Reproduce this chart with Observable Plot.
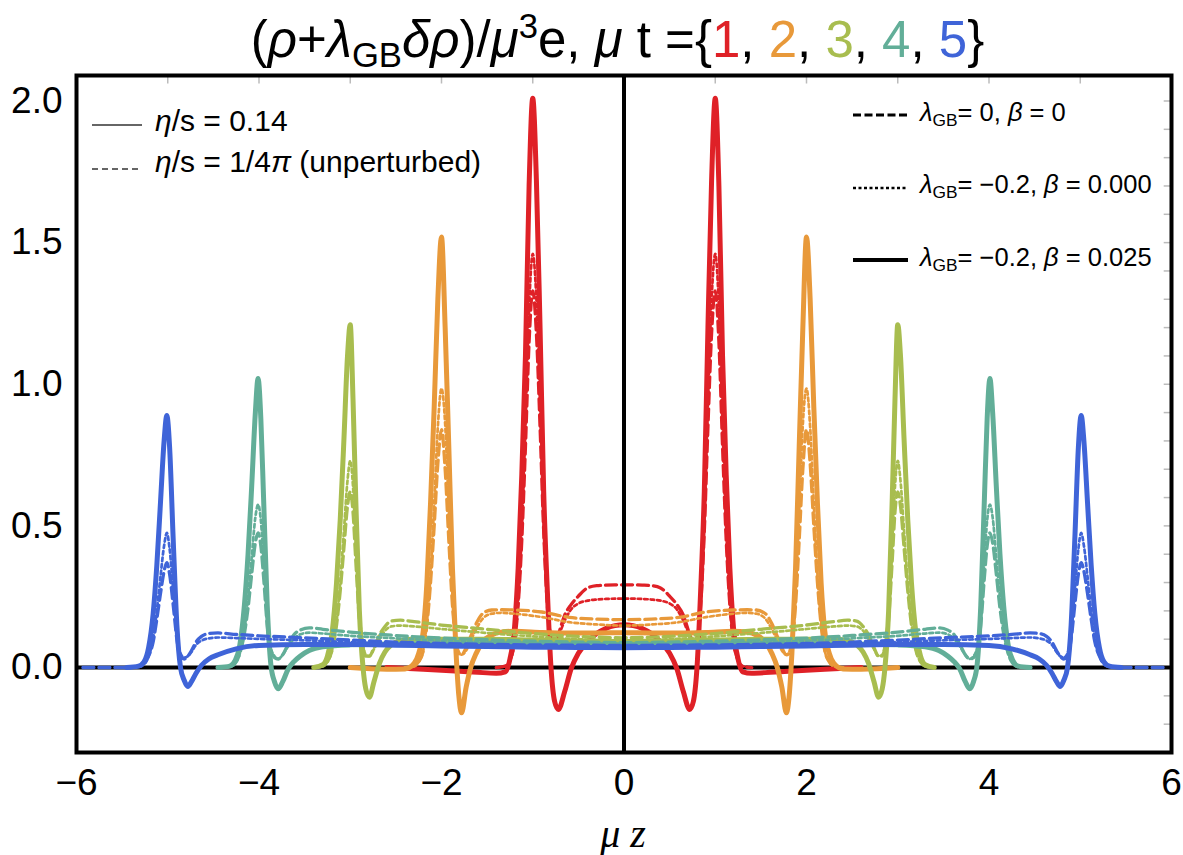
<!DOCTYPE html>
<html>
<head>
<meta charset="utf-8">
<script src="https://cdn.jsdelivr.net/npm/d3@7"></script>
<script src="https://cdn.jsdelivr.net/npm/@observablehq/plot@0.6"></script>
<style>
  html, body { margin: 0; padding: 0; background: #fff; }
  #wrap { position: relative; width: 1183px; height: 855px; font-family: "Liberation Sans", Arial, sans-serif; color: #000; }
  #title { position: absolute; left: 70px; width: 1095px; top: 14px; text-align: center; font-size: 51px; line-height: 1; white-space: nowrap; }
  .ov { position: absolute; line-height: 1; white-space: nowrap; }
  sub { font-size: 0.68em; vertical-align: -0.28em; line-height: 0; }
  sup { font-size: 0.68em; vertical-align: 0.55em; line-height: 0; }
  #chart { position: absolute; left: 0; top: 70px; }
  #legsvg { position: absolute; left: 0; top: 0; pointer-events: none; }
</style>
</head>
<body>
<div id="wrap">
  <div id="title">(<i>ρ</i>+<i>λ</i><sub>GB</sub><i>δρ</i>)/<i>μ</i><sup>3</sup>e, <i>μ</i> t ={<span id="tnums"></span>}</div>
  <div id="chart"></div>
  <svg id="legsvg" width="1183" height="855"></svg>
  <div class="ov" style="left:155px;top:106px;font-size:30px"><i>η</i>/s = 0.14</div>
  <div class="ov" style="left:155px;top:147px;font-size:30px"><i>η</i>/s = 1/4<i>π</i> (unperturbed)</div>
  <div class="ov" style="left:920px;top:100px;font-size:25.5px"><i>λ</i><sub>GB</sub>= 0, <i>β</i> = 0</div>
  <div class="ov" style="left:920px;top:172px;font-size:25.5px"><i>λ</i><sub>GB</sub>= −0.2, <i>β</i> = 0.000</div>
  <div class="ov" style="left:920px;top:245px;font-size:25.5px"><i>λ</i><sub>GB</sub>= −0.2, <i>β</i> = 0.025</div>
  <div class="ov" style="left:523px;width:200px;text-align:center;top:814px;font-size:40px;font-family:'Liberation Serif','Times New Roman',serif;font-style:italic">μ z</div>
</div>
<script>
// ---- data (right half z >= 0; the chart is mirror-symmetric in z) ----
const times = [1, 2, 3, 4, 5];
const colors = ["#df2127", "#e8993a", "#a8bd4f", "#62ae98", "#3f64d8"];
const xTicks = [-6, -4, -2, 0, 2, 4, 6];
const yTicks = [0, 0.5, 1, 1.5, 2];
const topTicks = [-5, -4, -3, -2, -1, 1, 2, 3, 4, 5];
const rightTicks = [-0.2, -0.1, 0.1, 0.2, 0.3, 0.4, 0.5, 0.6, 0.7, 0.8, 0.9, 1.0, 1.1, 1.2, 1.3, 1.4, 1.5, 1.6, 1.7, 1.8, 1.9, 2.0];

// t = 1
const z1 = [0, 0.1, 0.2, 0.3, 0.4, 0.5, 0.58, 0.65, 0.72, 0.76, 0.8, 0.84, 0.88, 0.92, 0.96, 1.0, 1.04, 1.08, 1.12, 1.16, 1.2, 1.25, 1.3, 1.4, 1.6, 1.8, 2.2, 2.6];
const solid1  = [0.151, 0.148, 0.138, 0.12, 0.09, 0.05, -0.005, -0.085, -0.148, -0.12, 0.0, 0.27, 0.62, 1.2, 1.72, 2.01, 1.7, 1.1, 0.68, 0.35, 0.14, 0.03, -0.015, -0.02, -0.017, -0.013, -0.006, 0.0];
const dashed1 = [0.292, 0.292, 0.291, 0.289, 0.281, 0.252, 0.222, 0.185, 0.115, 0.075, 0.1, 0.22, 0.48, 0.85, 1.18, 1.33, 1.15, 0.78, 0.45, 0.22, 0.09, 0.025, 0.005, 0.0, null, null, null, null];
const dotted1 = [0.243, 0.243, 0.242, 0.24, 0.236, 0.226, 0.205, 0.165, 0.11, 0.085, 0.11, 0.24, 0.52, 0.93, 1.3, 1.46, 1.27, 0.85, 0.48, 0.23, 0.09, 0.025, 0.005, 0.0, null, null, null, null];

// t = 2
const z2 = [0, 0.3, 0.6, 0.9, 1.2, 1.35, 1.45, 1.55, 1.62, 1.68, 1.73, 1.78, 1.81, 1.84, 1.88, 1.92, 1.96, 2.0, 2.04, 2.08, 2.12, 2.16, 2.2, 2.25, 2.3, 2.4, 2.6, 3.0];
const solid2  = [0.123, 0.122, 0.122, 0.124, 0.128, 0.125, 0.115, 0.09, 0.05, 0.0, -0.07, -0.16, -0.1, 0.05, 0.35, 0.78, 1.2, 1.52, 1.3, 0.92, 0.58, 0.3, 0.13, 0.05, 0.015, -0.005, -0.006, 0.0];
const dashed2 = [0.169, 0.171, 0.177, 0.196, 0.203, 0.204, 0.203, 0.19, 0.155, 0.11, 0.07, 0.045, 0.05, 0.09, 0.22, 0.45, 0.7, 0.84, 0.72, 0.5, 0.3, 0.15, 0.06, 0.02, 0.005, 0.0, null, null];
const dotted2 = [0.148, 0.152, 0.16, 0.178, 0.19, 0.193, 0.19, 0.172, 0.135, 0.095, 0.06, 0.045, 0.055, 0.1, 0.26, 0.55, 0.86, 0.985, 0.85, 0.58, 0.33, 0.16, 0.06, 0.02, 0.005, 0.0, null, null];

// t = 3
const z3 = [0, 0.5, 1.0, 1.5, 2.0, 2.3, 2.45, 2.55, 2.62, 2.68, 2.74, 2.79, 2.83, 2.86, 2.9, 2.94, 2.97, 3.0, 3.03, 3.07, 3.11, 3.15, 3.2, 3.25, 3.3, 3.4];
const solid3  = [0.092, 0.094, 0.097, 0.1, 0.1, 0.1, 0.095, 0.08, 0.055, 0.015, -0.05, -0.105, -0.075, 0.0, 0.2, 0.6, 0.95, 1.21, 1.1, 0.8, 0.52, 0.3, 0.12, 0.04, 0.01, 0.0];
const dashed3 = [0.105, 0.11, 0.12, 0.135, 0.15, 0.162, 0.167, 0.164, 0.145, 0.115, 0.07, 0.04, 0.04, 0.07, 0.17, 0.38, 0.55, 0.62, 0.57, 0.42, 0.27, 0.15, 0.06, 0.02, 0.005, 0.0];
const dotted3 = [0.095, 0.1, 0.11, 0.122, 0.136, 0.145, 0.148, 0.145, 0.13, 0.1, 0.065, 0.04, 0.045, 0.08, 0.2, 0.44, 0.64, 0.73, 0.66, 0.48, 0.3, 0.16, 0.06, 0.02, 0.005, 0.0];

// t = 4
const z4 = [0, 0.5, 1.0, 1.5, 2.0, 2.5, 3.0, 3.3, 3.45, 3.55, 3.62, 3.68, 3.74, 3.79, 3.83, 3.87, 3.91, 3.95, 3.98, 4.01, 4.04, 4.08, 4.12, 4.16, 4.21, 4.26, 4.32, 4.45];
const solid4  = [0.08, 0.08, 0.082, 0.083, 0.083, 0.083, 0.08, 0.073, 0.06, 0.04, 0.02, -0.005, -0.05, -0.075, -0.05, 0.01, 0.22, 0.6, 0.88, 1.02, 0.9, 0.64, 0.4, 0.22, 0.08, 0.025, 0.005, 0.0];
const dashed4 = [0.088, 0.09, 0.093, 0.098, 0.104, 0.113, 0.125, 0.135, 0.14, 0.132, 0.115, 0.082, 0.045, 0.03, 0.035, 0.06, 0.15, 0.32, 0.43, 0.475, 0.44, 0.33, 0.21, 0.12, 0.05, 0.015, 0.003, 0.0];
const dotted4 = [0.083, 0.085, 0.087, 0.09, 0.095, 0.103, 0.112, 0.12, 0.123, 0.117, 0.1, 0.075, 0.045, 0.03, 0.04, 0.07, 0.18, 0.38, 0.52, 0.575, 0.53, 0.39, 0.25, 0.13, 0.05, 0.015, 0.003, 0.0];

// t = 5
const z5 = [0, 0.5, 1.0, 1.5, 2.0, 2.5, 3.0, 3.5, 4.0, 4.25, 4.45, 4.55, 4.63, 4.69, 4.74, 4.78, 4.82, 4.86, 4.9, 4.94, 4.98, 5.01, 5.04, 5.08, 5.12, 5.16, 5.21, 5.26, 5.32, 5.45, 5.93];
const solid5  = [0.07, 0.071, 0.072, 0.074, 0.076, 0.079, 0.081, 0.081, 0.078, 0.066, 0.045, 0.03, 0.008, -0.02, -0.05, -0.067, -0.045, 0.0, 0.15, 0.45, 0.78, 0.89, 0.8, 0.58, 0.36, 0.19, 0.07, 0.02, 0.005, 0.0, null];
const dashed5 = [0.078, 0.079, 0.08, 0.082, 0.085, 0.09, 0.097, 0.105, 0.112, 0.117, 0.122, 0.12, 0.11, 0.09, 0.06, 0.04, 0.03, 0.04, 0.1, 0.22, 0.33, 0.37, 0.34, 0.26, 0.17, 0.09, 0.04, 0.012, 0.003, 0.0, 0.0];
const dotted5 = [0.074, 0.075, 0.076, 0.078, 0.08, 0.084, 0.09, 0.096, 0.101, 0.104, 0.106, 0.103, 0.095, 0.08, 0.055, 0.04, 0.035, 0.05, 0.12, 0.27, 0.42, 0.475, 0.43, 0.32, 0.2, 0.1, 0.04, 0.012, 0.003, 0.0, null];

const grids = [z1, z2, z3, z4, z5];
const solids = [solid1, solid2, solid3, solid4, solid5];
const dasheds = [dashed1, dashed2, dashed3, dashed4, dashed5];
const dotteds = [dotted1, dotted2, dotted3, dotted4, dotted5];

const styles = {
  dashed: {w: 3.3, dash: "11,5"},
  dotted: {w: 2.7, dash: "3.5,3"},
  solid: {w: 5, dash: null}
};

function rowsFor(zs, vs) {
  const rows = [];
  for (let i = zs.length - 1; i > 0; i--) rows.push({z: -zs[i], v: vs[i]});
  for (let i = 0; i < zs.length; i++) rows.push({z: zs[i], v: vs[i]});
  return rows;
}

document.getElementById("tnums").innerHTML = times
  .map((t, i) => `<span style="color:${colors[i]}">${t}</span>`).join(", ");

const curveMarks = [];
times.forEach((t, i) => {
  [["dashed", dasheds[i]], ["dotted", dotteds[i]], ["solid", solids[i]]].forEach(([s, vals]) => {
    const st = styles[s];
    curveMarks.push(Plot.line(rowsFor(grids[i], vals), {
      x: "z", y: "v", stroke: colors[i], strokeWidth: st.w,
      strokeDasharray: st.dash ?? undefined, curve: "monotone-x"
    }));
  });
});

const Y0 = -0.3, Y1 = 2.09;
const chart = Plot.plot({
  width: 1183, height: 785,
  marginTop: 5, marginLeft: 76, marginRight: 12, marginBottom: 103,
  x: {domain: [-6, 6], ticks: xTicks, tickFormat: d3.format("d"), tickSize: 0, tickPadding: 16, label: null},
  y: {domain: [Y0, Y1], ticks: yTicks, tickFormat: d3.format(".1f"), tickSize: 0, tickPadding: 14, label: null},
  style: {fontFamily: "'Liberation Sans', Arial, sans-serif", fontSize: "37px", color: "#000", background: "transparent", overflow: "visible"},
  marks: [
    Plot.ruleY([0], {stroke: "#000", strokeWidth: 4}),
    ...curveMarks,
    Plot.ruleX([0], {stroke: "#000", strokeWidth: 4}),
    Plot.ruleX(topTicks, {x: d => d, y1: Y1, y2: Y1 - 0.03, stroke: "#bbb", strokeWidth: 1.5}),
    Plot.ruleY(rightTicks, {y: d => d, x1: 6, x2: 6 - 0.08, stroke: "#bbb", strokeWidth: 1.5}),
    Plot.frame({stroke: "#000", strokeWidth: 4})
  ]
});
document.getElementById("chart").appendChild(chart);

const leg = d3.select("#legsvg");
const legLines = [
  {x1: 92, x2: 142, y: 125, w: 1.6, dash: null, c: "#333"},
  {x1: 92, x2: 142, y: 169, w: 1.6, dash: "6,4", c: "#333"},
  {x1: 853, x2: 908, y: 115, w: 3, dash: "8,3.5", c: "#000"},
  {x1: 853, x2: 908, y: 188, w: 2.4, dash: "3,2.5", c: "#000"},
  {x1: 853, x2: 908, y: 260, w: 4, dash: null, c: "#000"}
];
legLines.forEach(l => {
  const ln = leg.append("line").attr("x1", l.x1).attr("x2", l.x2).attr("y1", l.y).attr("y2", l.y)
    .attr("stroke", l.c).attr("stroke-width", l.w);
  if (l.dash) ln.attr("stroke-dasharray", l.dash);
});
</script>
</body>
</html>
